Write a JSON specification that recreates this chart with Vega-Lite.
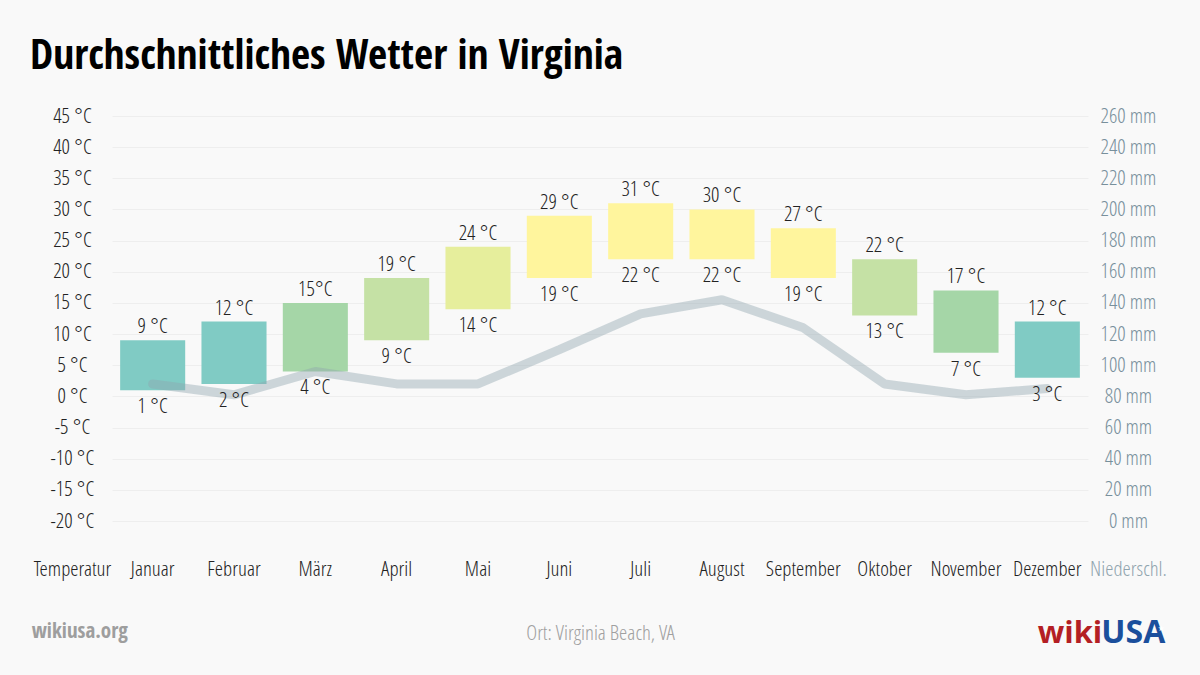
{
  "$schema": "https://vega.github.io/schema/vega-lite/v6.json",
  "width": 976,
  "height": 405,
  "autosize": {"type": "none"},
  "padding": {"left": 112, "top": 116, "right": 112, "bottom": 154},
  "background": "#f9f9f9",
  "title": {
    "text": "Durchschnittliches Wetter in Virginia",
    "anchor": "start",
    "frame": "group",
    "dx": -82,
    "offset": 36,
    "dy": 41,
    "baseline": "alphabetic",
    "font": "Open Sans Condensed, Roboto Condensed, Liberation Sans Narrow, sans-serif",
    "fontSize": 41.5,
    "fontWeight": "bold",
    "color": "#000000"
  },
  "config": {
    "view": {"stroke": null},
    "font": "Open Sans Condensed Light, Liberation Sans Narrow, sans-serif"
  },
  "data": {
    "values": [
      {"month": "Januar", "tmin": 1, "tmax": 9, "hi": "9 °C", "lo": "1 °C", "precip": 88},
      {"month": "Februar", "tmin": 2, "tmax": 12, "hi": "12 °C", "lo": "2 °C", "precip": 81},
      {"month": "März", "tmin": 4, "tmax": 15, "hi": "15°C", "lo": "4 °C", "precip": 96},
      {"month": "April", "tmin": 9, "tmax": 19, "hi": "19 °C", "lo": "9 °C", "precip": 88},
      {"month": "Mai", "tmin": 14, "tmax": 24, "hi": "24 °C", "lo": "14 °C", "precip": 88},
      {"month": "Juni", "tmin": 19, "tmax": 29, "hi": "29 °C", "lo": "19 °C", "precip": 110},
      {"month": "Juli", "tmin": 22, "tmax": 31, "hi": "31 °C", "lo": "22 °C", "precip": 133},
      {"month": "August", "tmin": 22, "tmax": 30, "hi": "30 °C", "lo": "22 °C", "precip": 142},
      {"month": "September", "tmin": 19, "tmax": 27, "hi": "27 °C", "lo": "19 °C", "precip": 124},
      {"month": "Oktober", "tmin": 13, "tmax": 22, "hi": "22 °C", "lo": "13 °C", "precip": 88},
      {"month": "November", "tmin": 7, "tmax": 17, "hi": "17 °C", "lo": "7 °C", "precip": 81},
      {"month": "Dezember", "tmin": 3, "tmax": 12, "hi": "12 °C", "lo": "3 °C", "precip": 85}
    ]
  },
  "encoding": {
    "x": {
      "field": "month",
      "type": "nominal",
      "sort": null,
      "scale": {"paddingInner": 0.2, "paddingOuter": 0.1},
      "axis": {
        "labelAngle": 0,
        "domain": false,
        "ticks": false,
        "labelPadding": 54,
        "labelBaseline": "alphabetic",
        "labelFontSize": 21,
        "labelFontWeight": "normal",
        "labelColor": "#222222",
        "title": "Ort: Virginia Beach, VA",
        "titleY": 118,
        "titleBaseline": "alphabetic",
        "titleFontSize": 21,
        "titleFontWeight": "normal",
        "titleColor": "#a0a0a0"
      }
    }
  },
  "layer": [
    {
      "mark": {"type": "bar", "opacity": 1},
      "encoding": {
        "y": {
          "field": "tmin",
          "type": "quantitative",
          "scale": {"domain": [-20, 45], "nice": false, "zero": false},
          "axis": {
            "values": [-20, -15, -10, -5, 0, 5, 10, 15, 20, 25, 30, 35, 40, 45],
            "labelExpr": "datum.value + ' °C'",
            "domain": false,
            "ticks": false,
            "tickSize": 0,
            "labelAlign": "center",
            "labelBaseline": "middle",
            "labelPadding": 40,
            "labelFontSize": 21,
            "labelFontWeight": "normal",
            "labelColor": "#222222",
            "grid": true,
            "gridColor": "#eeeeee",
            "gridWidth": 1,
            "title": "Temperatur",
            "titleAngle": 0,
            "titleX": -40,
            "titleY": 459,
            "titleAlign": "center",
            "titleBaseline": "alphabetic",
            "titleFontSize": 21,
            "titleFontWeight": "normal",
            "titleColor": "#222222"
          }
        },
        "y2": {"field": "tmax"},
        "color": {
          "field": "tmax",
          "type": "quantitative",
          "scale": {
            "type": "threshold",
            "domain": [15, 19, 24, 25],
            "range": ["#80cbc4", "#a5d6a7", "#c5e1a5", "#e6ee9c", "#fff59d"]
          },
          "legend": null
        }
      }
    },
    {
      "mark": {"type": "line", "stroke": "#90a4ae", "opacity": 0.42, "strokeWidth": 9, "strokeCap": "round", "strokeJoin": "bevel"},
      "encoding": {
        "y": {
          "field": "precip",
          "type": "quantitative",
          "scale": {"domain": [0, 260], "nice": false},
          "axis": {
            "orient": "right",
            "values": [0, 20, 40, 60, 80, 100, 120, 140, 160, 180, 200, 220, 240, 260],
            "labelExpr": "datum.value + ' mm'",
            "domain": false,
            "ticks": false,
            "tickSize": 0,
            "labelAlign": "center",
            "labelBaseline": "middle",
            "labelPadding": 40,
            "labelFontSize": 21,
            "labelFontWeight": "normal",
            "labelColor": "#78909c",
            "grid": false,
            "title": "Niederschl.",
            "titleAngle": 0,
            "titleX": 40,
            "titleY": 459,
            "titleAlign": "center",
            "titleBaseline": "alphabetic",
            "titleFontSize": 21,
            "titleFontWeight": "normal",
            "titleColor": "#90a4ae"
          }
        }
      }
    },
    {
      "layer": [
        {
          "mark": {"type": "text", "baseline": "alphabetic", "dy": -7, "fontSize": 21, "fontWeight": "normal", "color": "#222222"},
          "encoding": {
            "y": {"field": "tmax", "type": "quantitative", "scale": {"domain": [-20, 45], "nice": false, "zero": false}, "axis": null},
            "text": {"field": "hi"}
          }
        },
        {
          "mark": {"type": "text", "baseline": "alphabetic", "dy": 23, "fontSize": 21, "fontWeight": "normal", "color": "#222222"},
          "encoding": {
            "y": {"field": "tmin", "type": "quantitative", "axis": null},
            "text": {"field": "lo"}
          }
        },
        {
          "data": {"values": [{"t": "wikiusa.org"}]},
          "mark": {"type": "text", "align": "left", "baseline": "alphabetic", "dx": -121, "fontSize": 21, "fontWeight": "bold", "color": "#9e9e9e", "font": "Open Sans Condensed, Liberation Sans Narrow, sans-serif"},
          "encoding": {
            "x": {"datum": "Januar"},
            "y": {"datum": -38.8},
            "text": {"field": "t"}
          }
        },
        {
          "data": {"values": [{"t": "wiki"}]},
          "mark": {"type": "text", "align": "right", "baseline": "alphabetic", "dx": 55, "fontSize": 31, "fontWeight": "bold", "color": "#b41f24", "font": "Open Sans, sans-serif"},
          "encoding": {
            "x": {"datum": "Dezember"},
            "y": {"datum": -39.5},
            "text": {"field": "t"}
          }
        },
        {
          "data": {"values": [{"t": "USA"}]},
          "mark": {"type": "text", "align": "left", "baseline": "alphabetic", "dx": 54, "fontSize": 32, "fontWeight": "bold", "color": "#1b4f9c", "font": "Open Sans, sans-serif"},
          "encoding": {
            "x": {"datum": "Dezember"},
            "y": {"datum": -39.5},
            "text": {"field": "t"}
          }
        },
        {
          "data": {"values": [{"t": "★"}]},
          "mark": {"type": "text", "align": "center", "baseline": "middle", "dx": 114, "fontSize": 8, "color": "#ffffff", "font": "DejaVu Sans, sans-serif"},
          "encoding": {
            "x": {"datum": "Dezember"},
            "y": {"datum": -37.4},
            "text": {"field": "t"}
          }
        }
      ]
    }
  ],
  "resolve": {"scale": {"y": "independent"}}
}
